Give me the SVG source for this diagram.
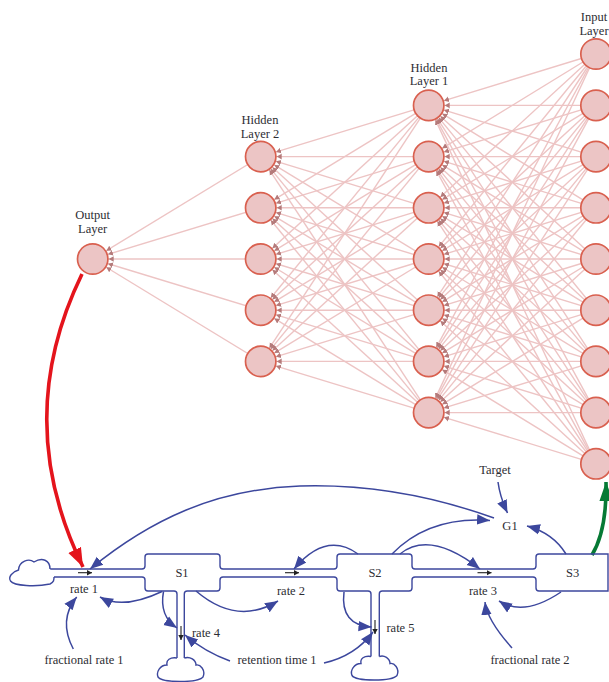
<svg xmlns="http://www.w3.org/2000/svg" width="609" height="682" viewBox="0 0 609 682">
<style>
text{font-family:"Liberation Serif","Times New Roman",serif;font-size:12.5px;fill:#2d2d33;text-anchor:middle}
.n{fill:#ecc5c5;stroke:#d9604f;stroke-width:1.7}
.w line{stroke:#edc4c4;stroke-width:1.4;marker-end:url(#h)}
.p{fill:none;stroke:#3c479d;stroke-width:1.4}
.f{fill:#fff;stroke:#3c479d;stroke-width:1.4}
.l{fill:none;stroke:#3c479d;stroke-width:1.5;marker-end:url(#b)}
.k{fill:none;stroke:#222;stroke-width:1.1;marker-end:url(#s)}
</style>
<defs>
<marker id="h" markerUnits="userSpaceOnUse" markerWidth="22" markerHeight="8" refX="21" refY="4" orient="auto"><path d="M0 1.2L5 4L0 6.800Z" fill="#b47a7a"/></marker>
<marker id="b" markerUnits="userSpaceOnUse" markerWidth="14" markerHeight="13" refX="13" refY="6.500" orient="auto"><path d="M0 1.300L13 6.500L0 11.700Z" fill="#3c479d"/></marker>
<marker id="s" markerUnits="userSpaceOnUse" markerWidth="6" markerHeight="7" refX="5" refY="3.500" orient="auto"><path d="M0 .8L5 3.500L0 6.200Z" fill="#222"/></marker>
<marker id="r" markerUnits="userSpaceOnUse" markerWidth="20" markerHeight="16" refX="19" refY="8" orient="auto"><path d="M0 1L19 8L0 15Z" fill="#e4141c"/></marker>
<marker id="g" markerUnits="userSpaceOnUse" markerWidth="20" markerHeight="16" refX="19" refY="8" orient="auto"><path d="M0 1L19 8L0 15Z" fill="#067a35"/></marker>
</defs>
<g id="connectors">
<g class="w">
<line x1="596" y1="54" x2="428.7" y2="105.4"/><line x1="596" y1="54" x2="428.7" y2="156.6"/><line x1="596" y1="54" x2="428.7" y2="207.8"/><line x1="596" y1="54" x2="428.7" y2="259"/><line x1="596" y1="54" x2="428.7" y2="310.2"/><line x1="596" y1="54" x2="428.7" y2="361.4"/><line x1="596" y1="54" x2="428.7" y2="412.6"/>
<line x1="596" y1="105.4" x2="428.7" y2="105.4"/><line x1="596" y1="105.4" x2="428.7" y2="156.6"/><line x1="596" y1="105.4" x2="428.7" y2="207.8"/><line x1="596" y1="105.4" x2="428.7" y2="259"/><line x1="596" y1="105.4" x2="428.7" y2="310.2"/><line x1="596" y1="105.4" x2="428.7" y2="361.4"/><line x1="596" y1="105.4" x2="428.7" y2="412.6"/>
<line x1="596" y1="156.6" x2="428.7" y2="105.4"/><line x1="596" y1="156.6" x2="428.7" y2="156.6"/><line x1="596" y1="156.6" x2="428.7" y2="207.8"/><line x1="596" y1="156.6" x2="428.7" y2="259"/><line x1="596" y1="156.6" x2="428.7" y2="310.2"/><line x1="596" y1="156.6" x2="428.7" y2="361.4"/><line x1="596" y1="156.6" x2="428.7" y2="412.6"/>
<line x1="596" y1="207.8" x2="428.7" y2="105.4"/><line x1="596" y1="207.8" x2="428.7" y2="156.6"/><line x1="596" y1="207.8" x2="428.7" y2="207.8"/><line x1="596" y1="207.8" x2="428.7" y2="259"/><line x1="596" y1="207.8" x2="428.7" y2="310.2"/><line x1="596" y1="207.8" x2="428.7" y2="361.4"/><line x1="596" y1="207.8" x2="428.7" y2="412.6"/>
<line x1="596" y1="259" x2="428.7" y2="105.4"/><line x1="596" y1="259" x2="428.7" y2="156.6"/><line x1="596" y1="259" x2="428.7" y2="207.8"/><line x1="596" y1="259" x2="428.7" y2="259"/><line x1="596" y1="259" x2="428.7" y2="310.2"/><line x1="596" y1="259" x2="428.7" y2="361.4"/><line x1="596" y1="259" x2="428.7" y2="412.6"/>
<line x1="596" y1="310.2" x2="428.7" y2="105.4"/><line x1="596" y1="310.2" x2="428.7" y2="156.6"/><line x1="596" y1="310.2" x2="428.7" y2="207.8"/><line x1="596" y1="310.2" x2="428.7" y2="259"/><line x1="596" y1="310.2" x2="428.7" y2="310.2"/><line x1="596" y1="310.2" x2="428.7" y2="361.4"/><line x1="596" y1="310.2" x2="428.7" y2="412.6"/>
<line x1="596" y1="361.4" x2="428.7" y2="105.4"/><line x1="596" y1="361.4" x2="428.7" y2="156.6"/><line x1="596" y1="361.4" x2="428.7" y2="207.8"/><line x1="596" y1="361.4" x2="428.7" y2="259"/><line x1="596" y1="361.4" x2="428.7" y2="310.2"/><line x1="596" y1="361.4" x2="428.7" y2="361.4"/><line x1="596" y1="361.4" x2="428.7" y2="412.6"/>
<line x1="596" y1="412.6" x2="428.7" y2="105.4"/><line x1="596" y1="412.6" x2="428.7" y2="156.6"/><line x1="596" y1="412.6" x2="428.7" y2="207.8"/><line x1="596" y1="412.6" x2="428.7" y2="259"/><line x1="596" y1="412.6" x2="428.7" y2="310.2"/><line x1="596" y1="412.6" x2="428.7" y2="361.4"/><line x1="596" y1="412.6" x2="428.7" y2="412.6"/>
<line x1="596" y1="463.8" x2="428.7" y2="105.4"/><line x1="596" y1="463.8" x2="428.7" y2="156.6"/><line x1="596" y1="463.8" x2="428.7" y2="207.8"/><line x1="596" y1="463.8" x2="428.7" y2="259"/><line x1="596" y1="463.8" x2="428.7" y2="310.2"/><line x1="596" y1="463.8" x2="428.7" y2="361.4"/><line x1="596" y1="463.8" x2="428.7" y2="412.6"/>
<line x1="428.7" y1="105.4" x2="260.7" y2="156.6"/><line x1="428.7" y1="105.4" x2="260.7" y2="207.8"/><line x1="428.7" y1="105.4" x2="260.7" y2="259"/><line x1="428.7" y1="105.4" x2="260.7" y2="310.2"/><line x1="428.7" y1="105.4" x2="260.7" y2="361.4"/>
<line x1="428.7" y1="156.6" x2="260.7" y2="156.6"/><line x1="428.7" y1="156.6" x2="260.7" y2="207.8"/><line x1="428.7" y1="156.6" x2="260.7" y2="259"/><line x1="428.7" y1="156.6" x2="260.7" y2="310.2"/><line x1="428.7" y1="156.6" x2="260.7" y2="361.4"/>
<line x1="428.7" y1="207.8" x2="260.7" y2="156.6"/><line x1="428.7" y1="207.8" x2="260.7" y2="207.8"/><line x1="428.7" y1="207.8" x2="260.7" y2="259"/><line x1="428.7" y1="207.8" x2="260.7" y2="310.2"/><line x1="428.7" y1="207.8" x2="260.7" y2="361.4"/>
<line x1="428.7" y1="259" x2="260.7" y2="156.6"/><line x1="428.7" y1="259" x2="260.7" y2="207.8"/><line x1="428.7" y1="259" x2="260.7" y2="259"/><line x1="428.7" y1="259" x2="260.7" y2="310.2"/><line x1="428.7" y1="259" x2="260.7" y2="361.4"/>
<line x1="428.7" y1="310.2" x2="260.7" y2="156.6"/><line x1="428.7" y1="310.2" x2="260.7" y2="207.8"/><line x1="428.7" y1="310.2" x2="260.7" y2="259"/><line x1="428.7" y1="310.2" x2="260.7" y2="310.2"/><line x1="428.7" y1="310.2" x2="260.7" y2="361.4"/>
<line x1="428.7" y1="361.4" x2="260.7" y2="156.6"/><line x1="428.7" y1="361.4" x2="260.7" y2="207.8"/><line x1="428.7" y1="361.4" x2="260.7" y2="259"/><line x1="428.7" y1="361.4" x2="260.7" y2="310.2"/><line x1="428.7" y1="361.4" x2="260.7" y2="361.4"/>
<line x1="428.7" y1="412.6" x2="260.7" y2="156.6"/><line x1="428.7" y1="412.6" x2="260.7" y2="207.8"/><line x1="428.7" y1="412.6" x2="260.7" y2="259"/><line x1="428.7" y1="412.6" x2="260.7" y2="310.2"/><line x1="428.7" y1="412.6" x2="260.7" y2="361.4"/>
<line x1="260.7" y1="156.6" x2="92.7" y2="259"/><line x1="260.7" y1="207.8" x2="92.7" y2="259"/><line x1="260.7" y1="259" x2="92.7" y2="259"/><line x1="260.7" y1="310.2" x2="92.7" y2="259"/><line x1="260.7" y1="361.4" x2="92.7" y2="259"/>
</g>
<path class="p" d="M50 569H142M54 577H142M223 569H334M223 577H334M415 569H533M415 577H533M177 594V658M184.300 594V658M371 594V657M379.300 594V657"/>
<path class="k" d="M78 572.700H92"/><path class="k" d="M285 572.700H299"/><path class="k" d="M477.500 572.700H491.500"/><path class="k" d="M181 626V640"/><path class="k" d="M375 620V634"/>
<path class="l" d="M73.300 649Q58 620 76.700 597"/>
<path class="l" d="M162 591.500Q123 610 100 597"/>
<path class="l" d="M196 591Q237 626 278 601"/>
<path class="l" d="M163.500 591.500Q159 616 177 628"/>
<path class="l" d="M230 661Q205 652 185 635"/>
<path class="l" d="M324 663Q355 656 373 632"/>
<path class="l" d="M344 592Q340 625 371.500 627"/>
<path class="l" d="M358 554Q326 531 294 569"/>
<path class="l" d="M392 554Q429 516 490 520.500"/>
<path class="l" d="M400 554Q430 530 480 569"/>
<path class="l" d="M561 592Q524 617 499 601"/>
<path class="l" d="M512 648Q487 620 485 602"/>
<path class="l" d="M566 554Q553 533 527 526"/>
<path class="l" d="M498 482Q500 497 507.500 513"/>
<path class="l" d="M494 518C430 495 365 484 300 486C215 489 150 520 90 569"/>
<path d="M82 274Q11 420 83 567" fill="none" stroke="#e4141c" stroke-width="3.600" marker-end="url(#r)"/>
<path d="M592 555Q607 530 606 482" fill="none" stroke="#067a35" stroke-width="3.600" marker-end="url(#g)"/>
</g>
<g id="output-layer"><text x="92.700" y="219">Output</text><text x="92.700" y="232.700">Layer</text><circle class="n" cx="92.700" cy="259" r="15.200"/></g>
<g id="hidden-layer-2"><text x="260" y="124">Hidden</text><text x="260" y="137.500">Layer 2</text>
<circle class="n" cx="260.700" cy="156.600" r="15.200"/><circle class="n" cx="260.700" cy="207.800" r="15.200"/><circle class="n" cx="260.700" cy="259" r="15.200"/><circle class="n" cx="260.700" cy="310.200" r="15.200"/><circle class="n" cx="260.700" cy="361.400" r="15.200"/></g>
<g id="hidden-layer-1"><text x="429" y="71.700">Hidden</text><text x="429" y="85">Layer 1</text>
<circle class="n" cx="428.700" cy="105.400" r="15.200"/><circle class="n" cx="428.700" cy="156.600" r="15.200"/><circle class="n" cx="428.700" cy="207.800" r="15.200"/><circle class="n" cx="428.700" cy="259" r="15.200"/><circle class="n" cx="428.700" cy="310.200" r="15.200"/><circle class="n" cx="428.700" cy="361.400" r="15.200"/><circle class="n" cx="428.700" cy="412.600" r="15.200"/></g>
<g id="input-layer"><text x="594" y="21">Input</text><text x="594" y="34.500">Layer</text>
<circle class="n" cx="596" cy="54" r="15.200"/><circle class="n" cx="596" cy="105.400" r="15.200"/><circle class="n" cx="596" cy="156.600" r="15.200"/><circle class="n" cx="596" cy="207.800" r="15.200"/><circle class="n" cx="596" cy="259" r="15.200"/><circle class="n" cx="596" cy="310.200" r="15.200"/><circle class="n" cx="596" cy="361.400" r="15.200"/><circle class="n" cx="596" cy="412.600" r="15.200"/><circle class="n" cx="596" cy="463.800" r="15.200"/></g>
<g id="cloud-1"><path class="f" d="M50 569C50 560 42 557 34 562C29 558 19 561 18.500 570C12 572 8 577 10.500 581C14 586 36 587 50 584C54 582 54 580 54 577"/></g>
<g id="cloud-2"><path class="f" d="M177 658C170 657 166 660 167 665C160 665 156 672 158 677C162 683 198 683 203 677C206 670 200 664 196 665C196 660 190 656 184.300 658"/></g>
<g id="cloud-3"><path class="f" d="M371 656.500C364 655.500 360 658.500 361 663.500C354 663.500 350 670.500 352 675.500C356 681.500 392 681.500 397 675.500C400 668.500 394 662.500 390 663.500C390 658.500 384 654.500 379.300 656.500"/></g>
<g id="S1"><path class="p" d="M142 569Q145 569 145 566V557Q145 554 148 554H217Q220 554 220 557V566Q220 569 223 569M142 577Q145 577 145 580V588Q145 591 148 591H174Q177 591 177 594M184.300 594Q184.300 591 187.300 591H217Q220 591 220 588V580Q220 577 223 577"/><text x="182" y="577.300">S1</text></g>
<g id="S2"><path class="p" d="M334 569Q337 569 337 566V557Q337 554 340 554H409Q412 554 412 557V566Q412 569 415 569M334 577Q337 577 337 580V588Q337 591 340 591H368Q371 591 371 594M379.300 594Q379.300 591 382.300 591H409Q412 591 412 588V580Q412 577 415 577"/><text x="375" y="577.300">S2</text></g>
<g id="S3"><path class="p" d="M533 569Q536 569 536 566V557Q536 554 539 554H608V591H539Q536 591 536 588V580Q536 577 533 577"/><text x="572.700" y="577.300">S3</text></g>
<g id="G1"><text x="510" y="530">G1</text></g>
<g id="Target"><text x="495" y="474">Target</text></g>
<g id="rate-1"><text x="84" y="593">rate 1</text></g>
<g id="rate-2"><text x="291" y="595">rate 2</text></g>
<g id="rate-3"><text x="483" y="595">rate 3</text></g>
<g id="rate-4"><text x="206" y="637">rate 4</text></g>
<g id="rate-5"><text x="400.500" y="631.700">rate 5</text></g>
<g id="fractional-rate-1"><text x="84" y="664">fractional rate 1</text></g>
<g id="retention-time-1"><text x="277" y="664">retention time 1</text></g>
<g id="fractional-rate-2"><text x="530" y="664">fractional rate 2</text></g>
</svg>
